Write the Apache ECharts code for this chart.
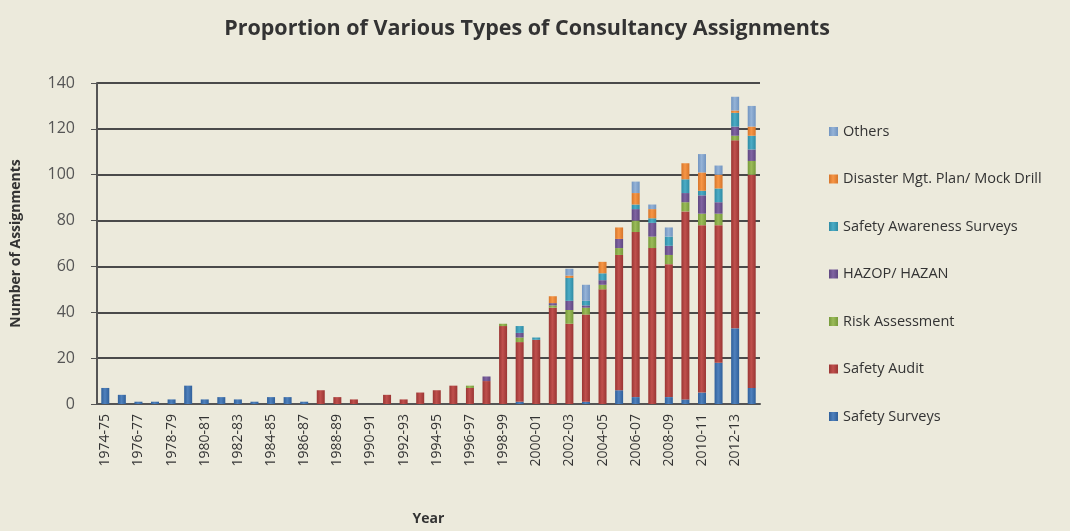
<!DOCTYPE html>
<html>
<head>
<meta charset="utf-8">
<script src="https://cdn.jsdelivr.net/npm/echarts@6/dist/echarts.min.js"></script>
<style>
html,body{margin:0;padding:0;background:#ECEADC;}
#c{width:1070px;height:531px;}
</style>
</head>
<body>
<div id="c"></div>
<script>
const years = ["1974-75","1975-76","1976-77","1977-78","1978-79","1979-80","1980-81","1981-82","1982-83","1983-84",
"1984-85","1985-86","1986-87","1987-88","1988-89","1989-90","1990-91","1991-92","1992-93","1993-94",
"1994-95","1995-96","1996-97","1997-98","1998-99","1999-00","2000-01","2001-02","2002-03","2003-04",
"2004-05","2005-06","2006-07","2007-08","2008-09","2009-10","2010-11","2011-12","2012-13","2013-14"];

const safetySurveys = [7,4,1,1,2,8,2,3,2,1, 3,3,1,0,0,0,0,0,0,0, 0,0,0,0,0,1,0,0,0,1, 0,6,3,0,3,2,5,18,33,7];
const safetyAudit   = [0,0,0,0,0,0,0,0,0,0, 0,0,0,6,3,2,0,4,2,5, 6,8,7,10,34,26,28,42,35,38, 50,59,72,68,58,82,73,60,82,93];
const riskAssessment= [0,0,0,0,0,0,0,0,0,0, 0,0,0,0,0,0,0,0,0,0, 0,0,1,0,1,2,0,1,6,3, 2,3,5,5,4,4,5,5,2,6];
const hazop         = [0,0,0,0,0,0,0,0,0,0, 0,0,0,0,0,0,0,0,0,0, 0,0,0,2,0,2,0,1,4,1, 2,4,5,6,4,4,8,5,4,5];
const awareness     = [0,0,0,0,0,0,0,0,0,0, 0,0,0,0,0,0,0,0,0,0, 0,0,0,0,0,3,1,0,10,2, 3,0,2,2,4,6,2,6,6,6];
const disaster      = [0,0,0,0,0,0,0,0,0,0, 0,0,0,0,0,0,0,0,0,0, 0,0,0,0,0,0,0,3,1,0, 5,5,5,4,0,7,8,6,1,4];
const others        = [0,0,0,0,0,0,0,0,0,0, 0,0,0,0,0,0,0,0,0,0, 0,0,0,0,0,0,0,0,3,7, 0,0,5,2,4,0,8,4,6,9];

const yTicks = [0,20,40,60,80,100,120,140];

const seriesDefs = [
  {name:"Safety Surveys", data:safetySurveys, color:"#4F81BD", dark:"#2f5f9a"},
  {name:"Safety Audit", data:safetyAudit, color:"#C0504D", dark:"#9a3533"},
  {name:"Risk Assessment", data:riskAssessment, color:"#9BBB59", dark:"#769a3a"},
  {name:"HAZOP/ HAZAN", data:hazop, color:"#8064A2", dark:"#5f4781"},
  {name:"Safety Awareness Surveys", data:awareness, color:"#4BACC6", dark:"#2f8ba4"},
  {name:"Disaster Mgt. Plan/ Mock Drill", data:disaster, color:"#F79646", dark:"#d6752a"},
  {name:"Others", data:others, color:"#95B3D7", dark:"#7194c0"}
];

const chart = echarts.init(document.getElementById('c'));
const font = "'Open Sans', 'Liberation Sans', sans-serif";
chart.setOption({
  backgroundColor: "#ECEADC",
  animation: false,
  title: {
    text: "Proportion of Various Types of Consultancy Assignments",
    left: 522, top: 13, textAlign: "center",
    textStyle: {fontFamily: font, fontSize: 21.5, fontWeight: "bold", color: "#333"}
  },
  legend: {
    orient: "vertical", left: 824, top: 119,
    itemWidth: 9, itemHeight: 9, itemGap: 32.5,
    icon: "rect",
    data: seriesDefs.map(s => s.name).reverse(),
    textStyle: {fontFamily: font, fontSize: 14.5, color: "#333"}
  },
  grid: {left: 97, right: 310, top: 83, bottom: 127},
  xAxis: {
    type: "category", data: years,
    name: "Year", nameLocation: "middle", nameGap: 108,
    nameTextStyle: {fontFamily: font, fontSize: 14, fontWeight: "bold", color: "#333"},
    axisLine: {lineStyle: {color: "#555", width: 2}},
    axisTick: {interval: 0, length: 7, lineStyle: {color: "#555"}},
    axisLabel: {interval: 1, rotate: 90, fontFamily: font, fontSize: 14, color: "#333", margin: 10}
  },
  yAxis: {
    type: "value", min: 0, max: 140, interval: 20,
    name: "Number of Assignments", nameLocation: "middle", nameGap: 74,
    nameTextStyle: {fontFamily: font, fontSize: 14, fontWeight: "bold", color: "#333"},
    axisLine: {show: true, lineStyle: {color: "#555", width: 2}},
    axisTick: {show: true, length: 6, lineStyle: {color: "#555"}},
    axisLabel: {fontFamily: font, fontSize: 16, color: "#555", margin: 22,
      formatter: v => yTicks.includes(v) ? String(v) : ""},
    splitLine: {lineStyle: {color: "#4a4a4a", width: 2}}
  },
  series: seriesDefs.map(s => ({
    name: s.name, type: "bar", stack: "total", barWidth: 8,
    data: s.data,
    itemStyle: {color: new echarts.graphic.LinearGradient(0,0,1,0,[
      {offset:0, color:s.dark},{offset:0.45, color:s.color},{offset:1, color:s.dark}])},
    emphasis: {disabled: true}
  }))
});
</script>
</body>
</html>
